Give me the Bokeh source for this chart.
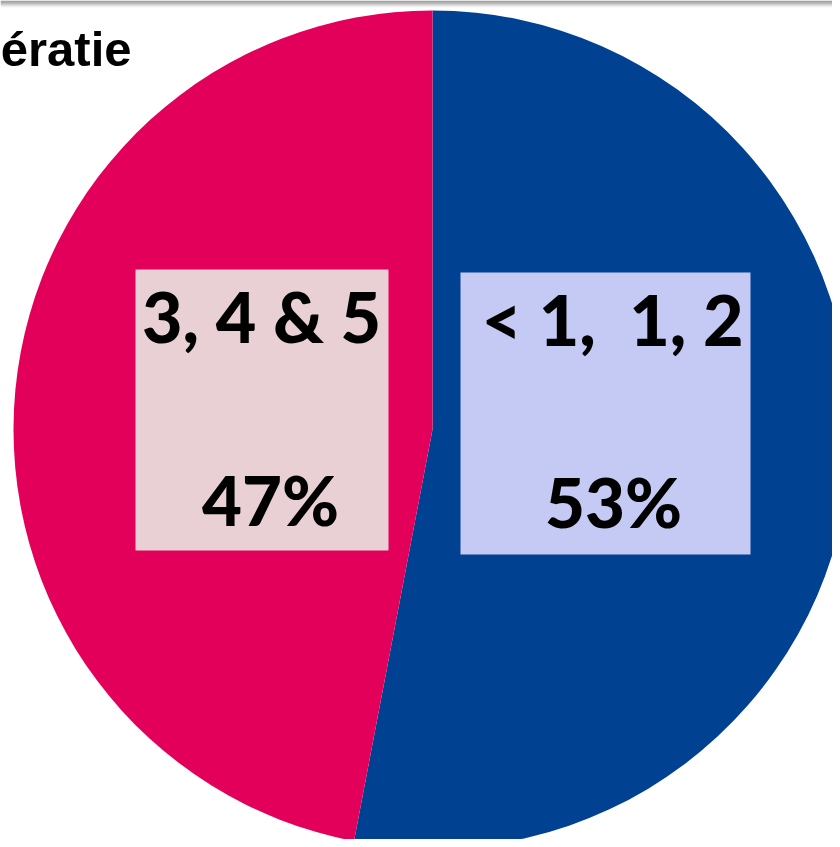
import math
from bokeh.plotting import figure
from bokeh.models import Range1d, ColumnDataSource
from bokeh.core.properties import value
from bokeh.embed import file_html
from bokeh.resources import INLINE

# ---- data ----
categories = ["< 1,\u00a0 1, 2", "3, 4 & 5"]
shares = [53, 47]
pct_labels = ["53%", "47%"]
slice_colors = ["#004291", "#E3005A"]
box_colors = ["#C5CAF5", "#E8D0D4"]
title_text = "ératie"

W, H = 832, 839
p = figure(width=W, height=H, output_backend="svg", toolbar_location=None,
           x_range=Range1d(0, W), y_range=Range1d(0, H),
           min_border=0)
p.axis.visible = False
p.grid.visible = False
p.outline_line_color = None
p.background_fill_color = "white"
p.border_fill_color = "white"

def Y(py):
    return H - py

cx, cy, r = 432, Y(429), 419

# wedges: start at 12 o'clock, go clockwise
total = sum(shares)
start = math.pi / 2
starts, ends = [], []
for s in shares:
    sweep = 2 * math.pi * s / total
    ends.append(start)
    starts.append(start - sweep)
    start -= sweep
src = ColumnDataSource(dict(x=[cx] * len(shares), y=[cy] * len(shares),
                            start=starts, end=ends, color=slice_colors))
p.wedge(x="x", y="y", radius=r, start_angle="start", end_angle="end",
        fill_color="color", line_color=None, source=src)

# top shadow band
for i, a in enumerate([0.42, 0.38, 0.32, 0.24, 0.16, 0.09, 0.04]):
    p.quad(left=0, right=W, top=Y(i), bottom=Y(i + 1), fill_color="black",
           fill_alpha=a, line_color=None)

# label boxes (blue for first category, pink for second)
box_left = [460, 135]
box_right = [750, 388]
box_top = [272, 269]
box_bottom = [554, 550]
p.quad(left=box_left, right=box_right, top=[Y(v) for v in box_top],
       bottom=[Y(v) for v in box_bottom], fill_color=box_colors, line_color=None)

lab_x = [612, 261]
p.text(x=lab_x, y=[Y(318), Y(315)], text=categories,
       text_font=value("Lato Black"), text_font_style="bold", text_font_size="70px",
       text_align="center", text_baseline="alphabetic", text_color="black")
p.text(x=[613, 270], y=[Y(501), Y(499)], text=pct_labels,
       text_font=value("Lato Black"), text_font_style="bold", text_font_size="69px",
       text_align="center", text_baseline="alphabetic", text_color="black")

p.text(x=[131], y=[Y(48)], text=[title_text],
       text_font=value("Liberation Sans"), text_font_style="bold", text_font_size="49px",
       text_align="right", text_baseline="alphabetic", text_color="black")

open("out.html", "w").write(file_html(p, INLINE))
